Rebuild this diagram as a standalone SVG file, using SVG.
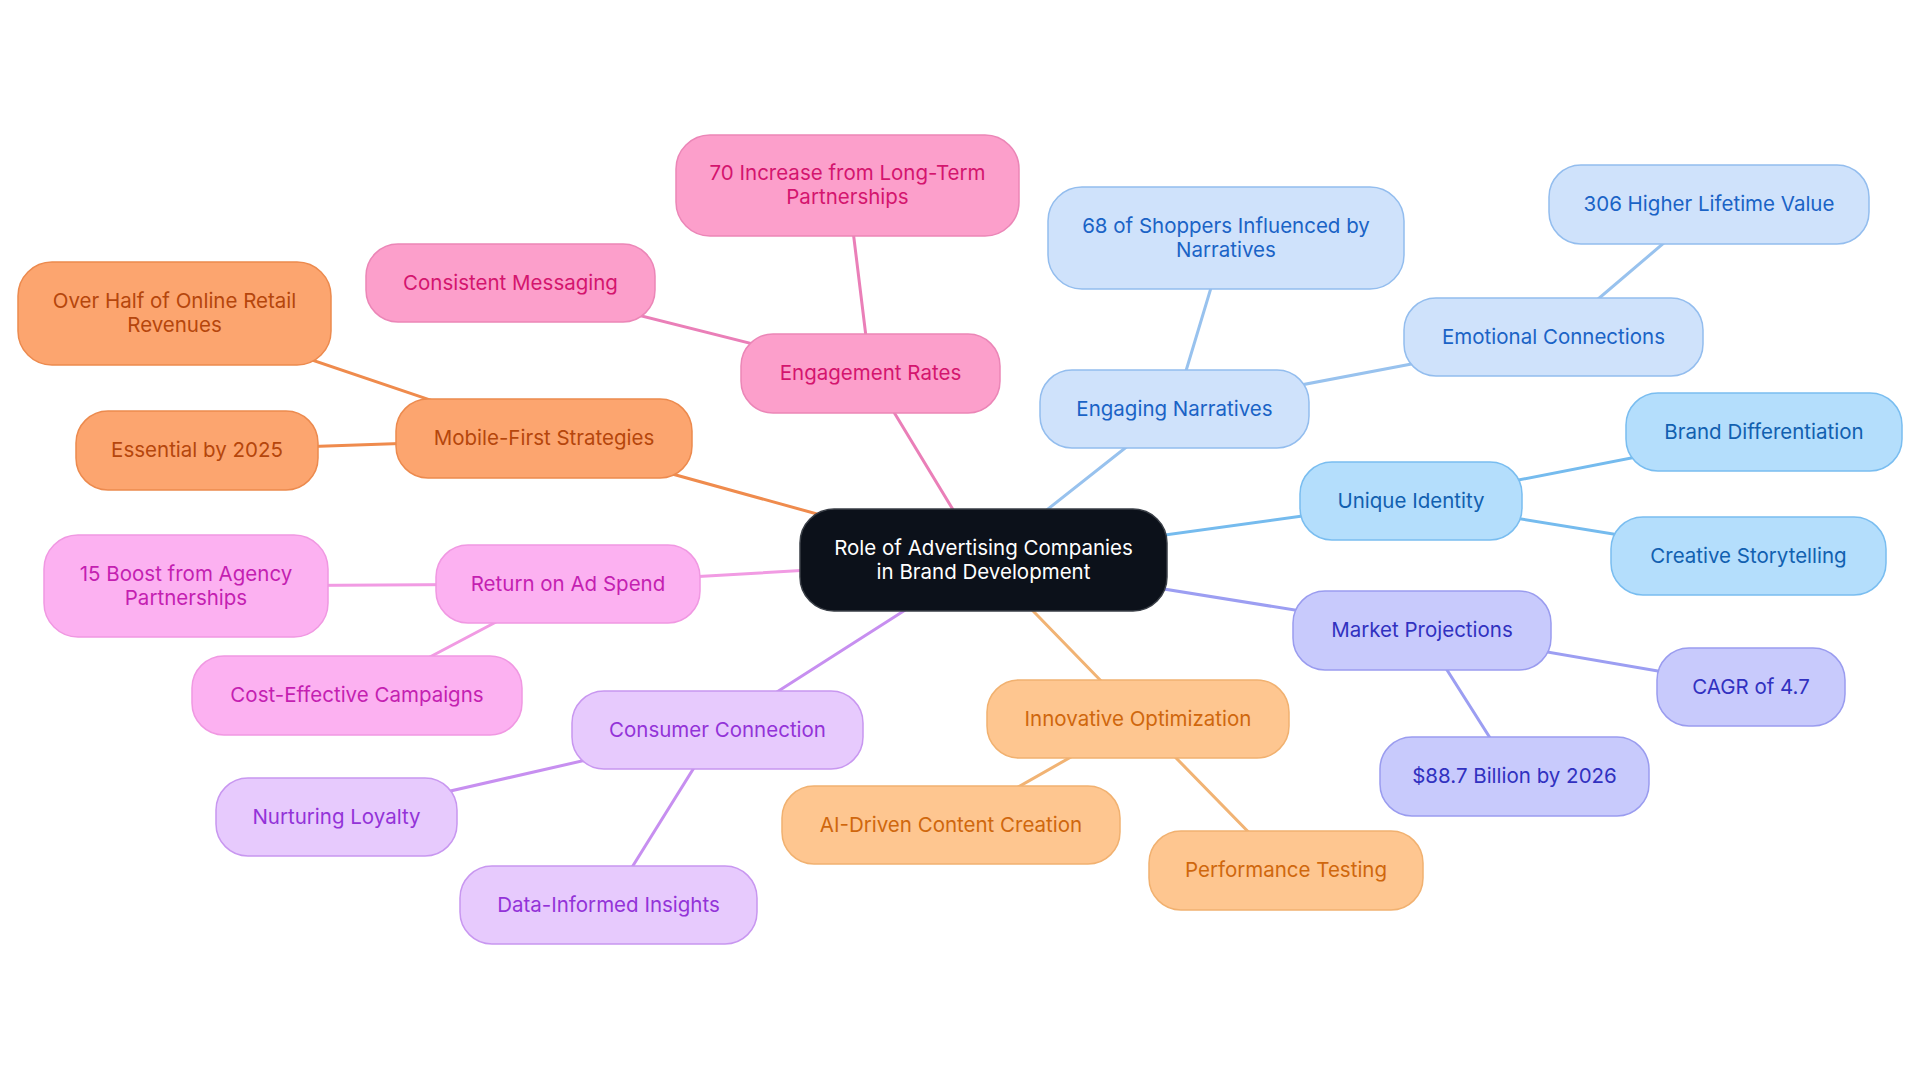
<svg xmlns="http://www.w3.org/2000/svg" width="1920" height="1083" viewBox="0 0 1920 1083">
<style>
text{font-family:Inter,"Noto Sans",sans-serif;font-size:20.5px;text-anchor:middle;dominant-baseline:central}
.n rect{stroke-width:1.5}
.n text{transform:translateY(-1px)}
.c line{stroke-width:3;stroke-linecap:round}
.root rect{fill:#0c111a;stroke:#3a3f47}
.root text{fill:#ffffff}
.bA rect{fill:#cfe2fb;stroke:#93bdee}.bA text{fill:#1a63c6}
.bB rect{fill:#b4defc;stroke:#79bdf0}.bB text{fill:#1160b0}
.bC rect{fill:#c8cafc;stroke:#9a9cef}.bC text{fill:#3131c0}
.bD rect{fill:#fec690;stroke:#f1b170}.bD text{fill:#cf670d}
.bE rect{fill:#e7cafd;stroke:#c897f0}.bE text{fill:#9333d8}
.bF rect{fill:#fcb1f1;stroke:#f098e2}.bF text{fill:#c41fb1}
.bG rect{fill:#fca56f;stroke:#ec8a4e}.bG text{fill:#b5460c}
.bH rect{fill:#fc9fcb;stroke:#eb86b7}.bH text{fill:#d4156e}
.lA{stroke:#98c2ee}.lB{stroke:#75bbee}.lC{stroke:#9c9ef2}.lD{stroke:#f1b374}
.lE{stroke:#c78ff0}.lF{stroke:#f19be3}.lG{stroke:#ef8b4d}.lH{stroke:#ea7fb8}
</style>
<rect x="0" y="0" width="1920" height="1083" fill="#ffffff"/>
<g id="connectors" class="c">
<line class="lA" x1="983.5" y1="560" x2="1174.5" y2="409"/>
<line class="lA" x1="1174.5" y1="409" x2="1226" y2="238"/>
<line class="lA" x1="1174.5" y1="409" x2="1553.5" y2="337"/>
<line class="lA" x1="1553.5" y1="337" x2="1709" y2="204.5"/>
<line class="lB" x1="983.5" y1="560" x2="1411" y2="501"/>
<line class="lB" x1="1411" y1="501" x2="1764" y2="432"/>
<line class="lB" x1="1411" y1="501" x2="1748.5" y2="556"/>
<line class="lC" x1="983.5" y1="560" x2="1422" y2="630.5"/>
<line class="lC" x1="1422" y1="630.5" x2="1751" y2="687"/>
<line class="lC" x1="1422" y1="630.5" x2="1514.5" y2="776.5"/>
<line class="lD" x1="983.5" y1="560" x2="1138" y2="719"/>
<line class="lD" x1="1138" y1="719" x2="951" y2="825"/>
<line class="lD" x1="1138" y1="719" x2="1286" y2="870.5"/>
<line class="lE" x1="983.5" y1="560" x2="717.5" y2="730"/>
<line class="lE" x1="717.5" y1="730" x2="336.5" y2="817"/>
<line class="lE" x1="717.5" y1="730" x2="608.5" y2="905"/>
<line class="lF" x1="983.5" y1="560" x2="568" y2="584"/>
<line class="lF" x1="568" y1="584" x2="186" y2="586"/>
<line class="lF" x1="568" y1="584" x2="357" y2="695.5"/>
<line class="lG" x1="983.5" y1="560" x2="544" y2="438.5"/>
<line class="lG" x1="544" y1="438.5" x2="174.5" y2="313.5"/>
<line class="lG" x1="544" y1="438.5" x2="197" y2="450.5"/>
<line class="lH" x1="983.5" y1="560" x2="870.5" y2="373.5"/>
<line class="lH" x1="870.5" y1="373.5" x2="510.5" y2="283"/>
<line class="lH" x1="870.5" y1="373.5" x2="847.5" y2="185.5"/>
</g>
<g id="root" class="n root"><rect x="800" y="509" width="367" height="102" rx="34"/><text x="983.5" y="548">Role of Advertising Companies</text><text x="983.5" y="572">in Brand Development</text></g>
<g id="engaging-narratives" class="n bA"><rect x="1040" y="370" width="269" height="78" rx="32"/><text x="1174.5" y="409">Engaging Narratives</text></g>
<g id="shoppers-influenced" class="n bA"><rect x="1048" y="187" width="356" height="102" rx="34"/><text x="1226" y="226">68 of Shoppers Influenced by</text><text x="1226" y="250">Narratives</text></g>
<g id="emotional-connections" class="n bA"><rect x="1404" y="298" width="299" height="78" rx="32"/><text x="1553.5" y="337">Emotional Connections</text></g>
<g id="lifetime-value" class="n bA"><rect x="1549" y="165" width="320" height="79" rx="32"/><text x="1709" y="204.5">306 Higher Lifetime Value</text></g>
<g id="unique-identity" class="n bB"><rect x="1300" y="462" width="222" height="78" rx="32"/><text x="1411" y="501">Unique Identity</text></g>
<g id="brand-differentiation" class="n bB"><rect x="1626" y="393" width="276" height="78" rx="32"/><text x="1764" y="432">Brand Differentiation</text></g>
<g id="creative-storytelling" class="n bB"><rect x="1611" y="517" width="275" height="78" rx="32"/><text x="1748.5" y="556">Creative Storytelling</text></g>
<g id="market-projections" class="n bC"><rect x="1293" y="591" width="258" height="79" rx="32"/><text x="1422" y="630.5">Market Projections</text></g>
<g id="cagr" class="n bC"><rect x="1657" y="648" width="188" height="78" rx="32"/><text x="1751" y="687">CAGR of 4.7</text></g>
<g id="billion-2026" class="n bC"><rect x="1380" y="737" width="269" height="79" rx="32"/><text x="1514.5" y="776.5">$88.7 Billion by 2026</text></g>
<g id="innovative-optimization" class="n bD"><rect x="987" y="680" width="302" height="78" rx="32"/><text x="1138" y="719">Innovative Optimization</text></g>
<g id="ai-content" class="n bD"><rect x="782" y="786" width="338" height="78" rx="32"/><text x="951" y="825">AI-Driven Content Creation</text></g>
<g id="performance-testing" class="n bD"><rect x="1149" y="831" width="274" height="79" rx="32"/><text x="1286" y="870.5">Performance Testing</text></g>
<g id="consumer-connection" class="n bE"><rect x="572" y="691" width="291" height="78" rx="32"/><text x="717.5" y="730">Consumer Connection</text></g>
<g id="nurturing-loyalty" class="n bE"><rect x="216" y="778" width="241" height="78" rx="32"/><text x="336.5" y="817">Nurturing Loyalty</text></g>
<g id="data-insights" class="n bE"><rect x="460" y="866" width="297" height="78" rx="32"/><text x="608.5" y="905">Data-Informed Insights</text></g>
<g id="return-ad-spend" class="n bF"><rect x="436" y="545" width="264" height="78" rx="32"/><text x="568" y="584">Return on Ad Spend</text></g>
<g id="agency-boost" class="n bF"><rect x="44" y="535" width="284" height="102" rx="34"/><text x="186" y="574">15 Boost from Agency</text><text x="186" y="598">Partnerships</text></g>
<g id="cost-effective" class="n bF"><rect x="192" y="656" width="330" height="79" rx="32"/><text x="357" y="695.5">Cost-Effective Campaigns</text></g>
<g id="mobile-first" class="n bG"><rect x="396" y="399" width="296" height="79" rx="32"/><text x="544" y="438.5">Mobile-First Strategies</text></g>
<g id="online-retail" class="n bG"><rect x="18" y="262" width="313" height="103" rx="34"/><text x="174.5" y="301.5">Over Half of Online Retail</text><text x="174.5" y="325.5">Revenues</text></g>
<g id="essential-2025" class="n bG"><rect x="76" y="411" width="242" height="79" rx="32"/><text x="197" y="450.5">Essential by 2025</text></g>
<g id="engagement-rates" class="n bH"><rect x="741" y="334" width="259" height="79" rx="32"/><text x="870.5" y="373.5">Engagement Rates</text></g>
<g id="consistent-messaging" class="n bH"><rect x="366" y="244" width="289" height="78" rx="32"/><text x="510.5" y="283">Consistent Messaging</text></g>
<g id="long-term" class="n bH"><rect x="676" y="135" width="343" height="101" rx="34"/><text x="847.5" y="173.5">70 Increase from Long-Term</text><text x="847.5" y="197.5">Partnerships</text></g>
</svg>
